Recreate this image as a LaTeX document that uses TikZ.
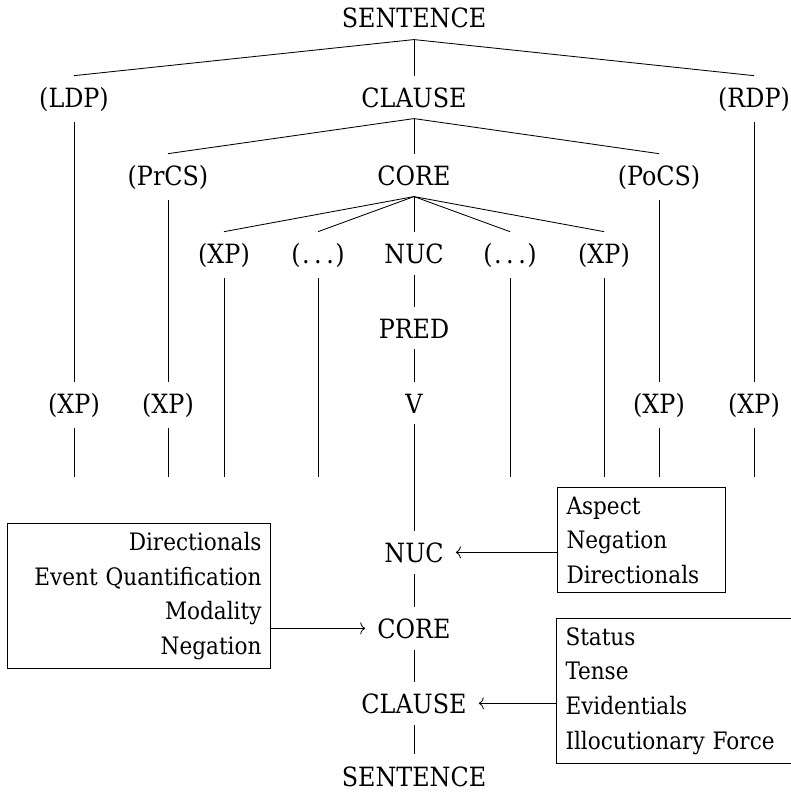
\documentclass[tikz,border=0pt]{standalone}
\usepackage{fontspec}
\usetikzlibrary{arrows.meta}
\newfontfamily\treefont{DejaVu Serif Condensed}
\newfontfamily\boxfont{DejaVu Serif Condensed}
\newcommand\gapdots{(\kern1.5pt.\kern4.5pt.\kern4.5pt.\kern1.5pt)}
\begin{document}
\begin{tikzpicture}[x=1pt,y=-1pt,
  lbl/.style={font=\treefont\fontsize{26.5}{32}\selectfont, inner xsep=12pt, inner ysep=11pt, anchor=base},
  edge/.style={line width=0.85pt},
  infobox/.style={draw, line width=1pt, inner xsep=9pt, inner ysep=9pt,
    font=\boxfont\fontsize{24}{34.6}\selectfont},
  link/.style={-{To[length=5pt,width=12pt,line width=0.85pt]}, line width=0.85pt}
]
\useasboundingbox (0,0) rectangle (791,792);

% upper tree: layered structure of the clause
\node[lbl] (sent)   at (414,28)  {SENTENCE};
\node[lbl] (ldp)    at (74,107)  {(LDP)};
\node[lbl] (clause) at (414,107) {CLAUSE};
\node[lbl] (rdp)    at (754,107) {(RDP)};
\node[lbl] (prcs)   at (168,185) {(PrCS)};
\node[lbl] (core)   at (414,185) {CORE};
\node[lbl] (pocs)   at (659,185) {(PoCS)};
\node[lbl] (xpa)    at (224,263) {(XP)};
\node[lbl] (dotsa)  at (318,263) {\gapdots};
\node[lbl] (nuc)    at (414,263) {NUC};
\node[lbl] (dotsb)  at (510,263) {\gapdots};
\node[lbl] (xpb)    at (604,263) {(XP)};
\node[lbl] (pred)   at (414,338) {PRED};
\node[lbl] (xpl)    at (74,413)  {(XP)};
\node[lbl] (xpm)    at (168,413) {(XP)};
\node[lbl] (verb)   at (414,413) {V};
\node[lbl] (xpn)    at (659,413) {(XP)};
\node[lbl] (xpr)    at (754,413) {(XP)};

% free ends of the branches above the operator projection
\coordinate (ea) at (74,477);
\coordinate (eb) at (168,477);
\coordinate (ec) at (224,477);
\coordinate (ed) at (318,477);
\coordinate (ee) at (510,477);
\coordinate (ef) at (604,477);
\coordinate (eg) at (659,477);
\coordinate (eh) at (754,477);

% lower chain: operator projection
\node[lbl] (nucB)    at (414,562) {NUC};
\node[lbl] (coreB)   at (414,638) {CORE};
\node[lbl] (clauseB) at (414,713) {CLAUSE};
\node[lbl, inner ysep=4pt] (sentB) at (414,786) {SENTENCE};

\begin{scope}[edge]
  \draw (sent.south) -- (ldp.north);
  \draw (sent.south) -- (clause.north);
  \draw (sent.south) -- (rdp.north);
  \draw (clause.south) -- (prcs.north);
  \draw (clause.south) -- (core.north);
  \draw (clause.south) -- (pocs.north);
  \draw (core.south) -- (xpa.north);
  \draw (core.south) -- (dotsa.north);
  \draw (core.south) -- (nuc.north);
  \draw (core.south) -- (dotsb.north);
  \draw (core.south) -- (xpb.north);
  \draw (nuc.south) -- (pred.north);
  \draw (pred.south) -- (verb.north);
  \draw (ldp.south) -- (xpl.north);
  \draw (prcs.south) -- (xpm.north);
  \draw (pocs.south) -- (xpn.north);
  \draw (rdp.south) -- (xpr.north);
  \draw (xpl.south) -- (ea);
  \draw (xpm.south) -- (eb);
  \draw (xpa.south) -- (ec);
  \draw (dotsa.south) -- (ed);
  \draw (dotsb.south) -- (ee);
  \draw (xpb.south) -- (ef);
  \draw (xpn.south) -- (eg);
  \draw (xpr.south) -- (eh);
  \draw (verb.south) -- (nucB.north);
  \draw (nucB.south) -- (coreB.north);
  \draw (coreB.south) -- (clauseB.north);
  \draw (clauseB.south) -- ([yshift=8pt]sentB.north);
\end{scope}

% operator boxes
\node[infobox, align=left, text width=150pt, anchor=north west] (nucops) at (557,487)
  {Aspect\\Negation\\Directionals};
\node[infobox, align=right, text width=245pt, anchor=north east] (coreops) at (271,523)
  {Directionals\\Event Quantification\\Modality\\Negation};
\node[infobox, align=left, text width=245pt, anchor=north west] (clauseops) at (556,618)
  {Status\\Tense\\Evidentials\\Illocutionary Force};

\draw[link] (nucops.west |- nucB) -- (nucB.east);
\draw[link] (coreops.east |- coreB) -- (coreB.west);
\draw[link] (clauseops.west |- clauseB) -- (clauseB.east);
\end{tikzpicture}
\end{document}
